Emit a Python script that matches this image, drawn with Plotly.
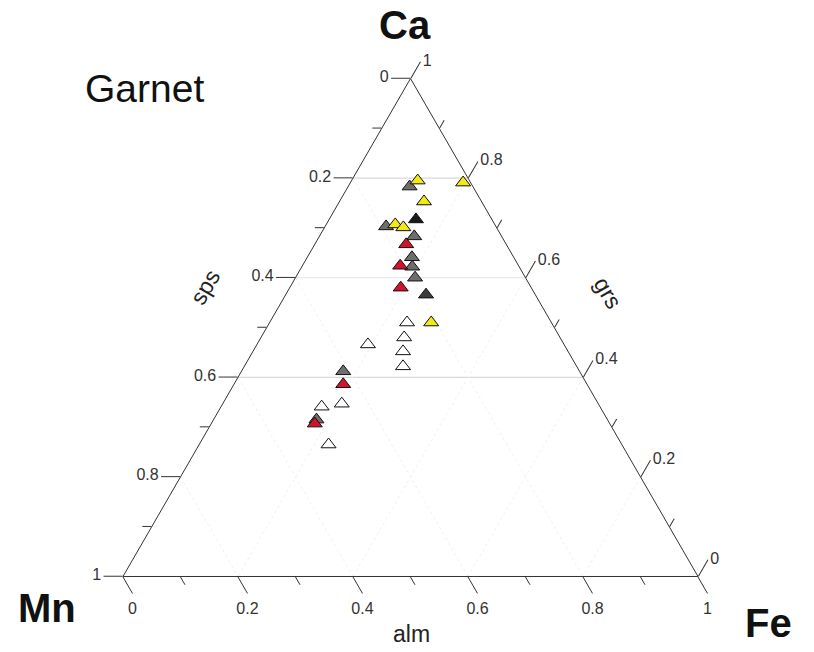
import plotly.graph_objects as go

# Garnet end-member fractions (Ca = grs, Mn = sps, Fe = alm), grouped by symbol fill
yellow_ca = [0.795, 0.791, 0.753, 0.707, 0.701, 0.510]
yellow_mn = [0.090, 0.013, 0.100, 0.173, 0.162, 0.209]
yellow_fe = [0.115, 0.196, 0.147, 0.120, 0.137, 0.281]

gray_ca = [0.783, 0.703, 0.683, 0.641, 0.622, 0.600, 0.412, 0.315]
gray_mn = [0.110, 0.191, 0.152, 0.177, 0.186, 0.192, 0.411, 0.506]
gray_fe = [0.107, 0.106, 0.165, 0.182, 0.192, 0.208, 0.177, 0.179]

red_ca = [0.667, 0.624, 0.580, 0.386, 0.307]
red_mn = [0.174, 0.206, 0.227, 0.424, 0.513]
red_fe = [0.159, 0.170, 0.193, 0.190, 0.180]

black_ca = [0.717]
black_mn = [0.132]
black_fe = [0.151]

dark_ca = [0.566]
dark_mn = [0.190]
dark_fe = [0.244]

open_ca = [0.510, 0.480, 0.452, 0.422, 0.466, 0.347, 0.341, 0.265]
open_mn = [0.251, 0.271, 0.287, 0.302, 0.341, 0.446, 0.484, 0.510]
open_fe = [0.239, 0.249, 0.261, 0.276, 0.193, 0.207, 0.175, 0.225]

# Tick positions and the labels written along each edge
major_ticks = [0.0, 0.2, 0.4, 0.6, 0.8, 1.0]
minor_ticks = [0.1, 0.3, 0.5, 0.7, 0.9]
sps_labels = ["1", "0.8", "0.6", "0.4", "0.2", "0"]   # left edge
alm_labels = ["1", "0.8", "0.6", "0.4", "0.2", "0"]   # bottom edge
grs_labels = ["1", "0.8", "0.6", "0.4", "0.2", "0"]   # right edge

# Reference lines of constant Ca, and faint ones of constant Mn / Fe
ca_grid = [0.8, 0.6, 0.4]
ca_grid_colors = ["#cfcfcf", "#e4e4e4", "#cfcfcf"]
side_grid = [0.2, 0.4, 0.6, 0.8]

fig = go.Figure()

for lvl, col in zip(ca_grid, ca_grid_colors):
    fig.add_trace(go.Scatterternary(
        a=[lvl, lvl], b=[1 - lvl, 0], c=[0, 1 - lvl], mode="lines",
        line=dict(color=col, width=1), hoverinfo="skip", showlegend=False))
for lvl in side_grid:
    fig.add_trace(go.Scatterternary(
        a=[1 - lvl, 0], b=[lvl, lvl], c=[0, 1 - lvl], mode="lines",
        line=dict(color="#f0f0f0", width=1, dash="dot"), hoverinfo="skip", showlegend=False))
    fig.add_trace(go.Scatterternary(
        a=[1 - lvl, 0], b=[0, 1 - lvl], c=[lvl, lvl], mode="lines",
        line=dict(color="#f0f0f0", width=1, dash="dot"), hoverinfo="skip", showlegend=False))

groups = [
    ("open", open_ca, open_mn, open_fe, "#ffffff"),
    ("gray", gray_ca, gray_mn, gray_fe, "#6e6e6e"),
    ("yellow", yellow_ca, yellow_mn, yellow_fe, "#f3ea14"),
    ("red", red_ca, red_mn, red_fe, "#d3122e"),
    ("black", black_ca, black_mn, black_fe, "#1a1a1a"),
    ("dark", dark_ca, dark_mn, dark_fe, "#3c3c3c"),
]
for name, ca, mn, fe, color in groups:
    fig.add_trace(go.Scatterternary(
        a=ca, b=mn, c=fe, mode="markers", name=name, showlegend=False,
        marker=dict(symbol="triangle-up", size=13, color=color,
                    line=dict(color="#111111", width=1))))

# empty trace that carries the overlay subplot holding the minor ticks
fig.add_trace(go.Scatterternary(a=[], b=[], c=[], subplot="ternary2",
                                showlegend=False, hoverinfo="skip"))

tick_font = dict(family="Liberation Sans Narrow, Arial Narrow, Liberation Sans, Arial",
                 size=16, color="#333333")
domain = dict(x=[0.1511, 0.8575], y=[0.115, 0.8804])

def major_axis(labels):
    return dict(min=0, showline=True, linecolor="#333333", linewidth=1,
                showgrid=False, ticks="outside", ticklen=19, tickwidth=1,
                tickcolor="#333333", tickmode="array", tickvals=major_ticks,
                ticktext=labels, tickfont=tick_font, title=dict(text=""))

def minor_axis():
    return dict(min=0, showline=False, showgrid=False, ticks="outside",
                ticklen=9, tickwidth=1, tickcolor="#333333", tickmode="array",
                tickvals=minor_ticks, showticklabels=False, title=dict(text=""))

def label(text, x, y, size, angle=0, color="#111111"):
    return dict(text=text, x=x, y=y, xref="paper", yref="paper",
                xanchor="center", yanchor="middle", showarrow=False,
                textangle=angle,
                font=dict(family="Liberation Sans, Arial", size=size, color=color))

fig.update_layout(
    width=814, height=652,
    margin=dict(l=0, r=0, t=0, b=0),
    paper_bgcolor="white",
    ternary=dict(domain=domain, bgcolor="white", sum=1,
                 aaxis=major_axis(sps_labels),
                 baxis=major_axis(alm_labels),
                 caxis=major_axis(grs_labels)),
    ternary2=dict(domain=domain, bgcolor="rgba(0,0,0,0)", sum=1,
                  aaxis=minor_axis(), baxis=minor_axis(), caxis=minor_axis()),
    annotations=[
        label("Garnet", 0.178, 0.8635, 39),
        label("<b>Ca</b>", 0.4975, 0.9617, 40),
        label("<b>Mn</b>", 0.0577, 0.0675, 40),
        label("<b>Fe</b>", 0.9447, 0.0445, 40),
        label("alm", 0.505, 0.0276, 23, color="#222222"),
        label("sps", 0.2518, 0.56, 23, angle=-60, color="#222222"),
        label("grs", 0.747, 0.5506, 23, angle=60, color="#222222"),
    ],
)

fig.write_html("out.html")
